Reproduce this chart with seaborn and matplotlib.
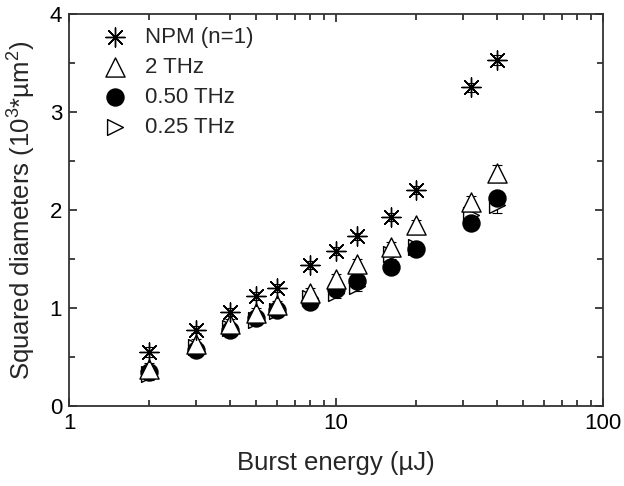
import numpy as np
import pandas as pd
import matplotlib
matplotlib.use('Agg')
import matplotlib.pyplot as plt
import seaborn as sns
from matplotlib.ticker import LogLocator, MultipleLocator, FixedLocator, FixedFormatter, NullFormatter

# dane
energia = [2, 3, 4, 5, 6, 8, 10, 12, 16, 20, 32, 40]

npm = [0.55, 0.78, 0.96, 1.12, 1.20, 1.44, 1.58, 1.73, 1.93, 2.20, 3.25, 3.53]
thz_2 = [0.38, 0.63, 0.84, 0.95, 1.03, 1.15, 1.30, 1.45, 1.62, 1.85, 2.08, 2.38]
thz_050 = [0.35, 0.57, 0.78, 0.90, 0.98, 1.06, 1.19, 1.28, 1.42, 1.60, 1.87, 2.12]
thz_025 = [0.33, 0.60, 0.80, 0.88, 0.97, 1.10, 1.15, 1.22, 1.55, 1.62, 1.95, 2.05]

err_npm = [0.05, 0.04, 0.04, 0.04, 0.04, 0.04, 0.04, 0.04, 0.04, 0.04, 0.05, 0.05]
err_2 = [0.06, 0.05, 0.05, 0.05, 0.04, 0.05, 0.05, 0.05, 0.05, 0.05, 0.06, 0.08]
err_050 = [0.04, 0.04, 0.04, 0.04, 0.04, 0.04, 0.04, 0.04, 0.04, 0.04, 0.04, 0.04]
err_025 = [0.06, 0.05, 0.05, 0.05, 0.04, 0.05, 0.05, 0.05, 0.05, 0.05, 0.06, 0.08]

serie = ['NPM (n=1)', '2 THz', '0.50 THz', '0.25 THz']

sns.set_theme(style='ticks')
plt.rcParams['font.family'] = ['Liberation Sans', 'DejaVu Sans']
plt.rcParams['mathtext.fontset'] = 'custom'
plt.rcParams['mathtext.rm'] = 'Liberation Sans'
plt.rcParams['mathtext.it'] = 'Liberation Sans:italic'

df = pd.DataFrame({
    'energia': energia * 4,
    'srednica': npm + thz_2 + thz_050 + thz_025,
    'blad': err_npm + err_2 + err_050 + err_025,
    'seria': [s for s in serie for _ in energia],
})

fig = plt.figure(figsize=(6.24, 4.86), dpi=100)
ax = fig.add_axes([0.1106, 0.1646, 0.8558, 0.8066])

style = {
    'NPM (n=1)': dict(marker=(8, 2, 0), s=190, facecolor='black', lw=1.0),
    '2 THz': dict(marker='^', s=190, facecolor='white', lw=1.0),
    '0.50 THz': dict(marker='o', s=150, facecolor='black', lw=1.0),
    '0.25 THz': dict(marker='>', s=130, facecolor='white', lw=1.0),
}
order = ['0.25 THz', '0.50 THz', '2 THz', 'NPM (n=1)']

for nazwa in order:
    d = df[df['seria'] == nazwa]
    ax.errorbar(d['energia'], d['srednica'], yerr=d['blad'], fmt='none',
                ecolor='black', elinewidth=0.8, capsize=3.5, capthick=0.8, zorder=2)
    st = style[nazwa]
    sns.scatterplot(x=d['energia'], y=d['srednica'], ax=ax, marker=st['marker'], s=st['s'],
                    color=st['facecolor'], edgecolor='black', linewidth=st['lw'],
                    label=nazwa, zorder=3)

ax.set_xscale('log')
ax.set_xlim(1, 100)
ax.set_ylim(0, 4)
ax.xaxis.set_major_locator(FixedLocator([1, 10, 100]))
ax.xaxis.set_major_formatter(FixedFormatter(['1', '10', '100']))
ax.xaxis.set_minor_locator(LogLocator(base=10, subs=np.arange(2, 10)))
ax.xaxis.set_minor_formatter(NullFormatter())
ax.yaxis.set_major_locator(MultipleLocator(1))
ax.yaxis.set_minor_locator(MultipleLocator(0.5))

ax.tick_params(which='both', direction='in', top=True, right=True, labelsize=16, width=1.2,
               colors='#222222', labelcolor='black')
ax.tick_params(which='major', length=6, pad=5)
ax.tick_params(which='minor', length=4)
for sp in ax.spines.values():
    sp.set_linewidth(1.3)
    sp.set_color('#333333')

ax.set_xlabel('Burst energy (µJ)', fontsize=18.5, labelpad=12)
ax.set_ylabel('Squared diameters (10$^3$*µm$^2$)', fontsize=18.5, labelpad=8)

handles, labels = ax.get_legend_handles_labels()
kol = [labels.index(s) for s in serie]
ax.legend([handles[i] for i in kol], [labels[i] for i in kol], loc='upper left',
          frameon=False, fontsize=16, handletextpad=0.35, labelspacing=0.4,
          borderaxespad=0.2, bbox_to_anchor=(0.02, 1.0))

fig.savefig('out.png', dpi=100)
